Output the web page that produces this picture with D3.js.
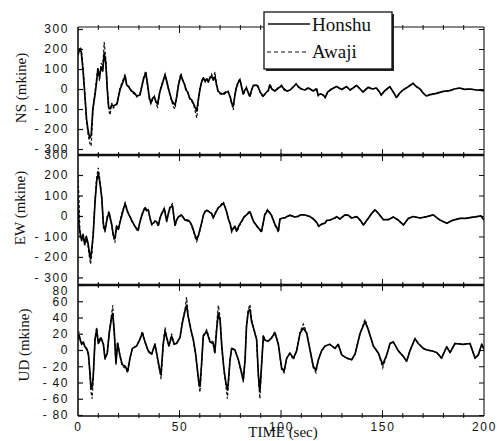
<!DOCTYPE html>
<html><head><meta charset="utf-8">
<script src="https://cdn.jsdelivr.net/npm/d3@7"></script>
<style>
body{margin:0;background:#fff;}
svg{display:block;}
.tick text{font-family:"Liberation Sans",Arial,sans-serif;font-size:12px;letter-spacing:1.6px;fill:#111;}
</style></head>
<body><svg id="c" width="497" height="441"></svg>
<script>
// ---------- DATA ----------
const seriesNames = ["Honshu", "Awaji"];
const panelNames = ["NS (mkine)", "EW (mkine)", "UD (mkine)"];
const xTicks = [0, 50, 100, 150, 200];
const nsTicks = [300, 200, 100, 0, -100, -200, -300];
const ewTicks = [300, 200, 100, 0, -100, -200, -300];
const udTicks = [80, 60, 40, 20, 0, -20, -40, -60, -80];

const nsTime = [0,0.8,1.6,2.5,3.3,4.2,5,5.8,6.5,7.3,8.2,9,9.8,10.6,11.4,12.2,12.9,13.7,14.4,15.1,15.8,16.6,17.4,18.3,19.2,20,20.8,21.6,22.5,23.2,24,25,26.4,27.8,28.9,30.5,31.4,32.3,33.4,34.3,35.1,35.9,36.8,37.6,38.5,39.2,40.3,41.5,42.9,43.7,44.5,45.3,46.1,47,47.8,48.6,49.5,50.7,51.5,52.4,53.2,54,55,56,57,57.6,58.5,59.3,60.1,60.9,61.7,62.6,63.4,64.2,65,65.8,66.6,67.5,68.3,69,70,71.5,72.8,74,75,75.7,76.5,77.3,78,79,79.8,80.6,81.4,82.2,83,83.9,84.7,85.5,86.3,88,88.7,90,91.3,92.5,93.8,94.5,95.5,97,98.7,100.3,101.5,102.8,104.5,106,107.5,108.5,110,111.8,113.5,115.8,117.5,118.3,119.5,120.8,121.8,123,125,127.4,129.9,132.3,134,135.5,137.2,138.5,140.4,142.9,145,147,148.5,149.4,151,153.6,155,156.9,158.5,160.1,162.5,165,166.7,168.5,170,171.6,173.5,176.5,180,183.1,185.5,188,190.5,193,196.5,200];
const nsHonshu = [170,200,185,90,-20,-150,-210,-245,-230,-100,-40,20,100,60,110,90,180,130,0,-90,-100,-80,-85,-80,-75,-35,0,20,45,65,20,10,-10,-20,-35,-30,10,50,80,20,-40,-70,-45,-40,-65,-75,-15,25,70,40,5,-25,-55,-70,-80,-40,20,70,45,25,-5,-15,-45,-55,-75,-90,-110,-50,0,35,55,40,50,35,55,65,45,60,20,-10,-20,-25,-15,-15,-40,-70,-85,-30,5,35,45,10,-25,-5,5,-20,-35,-5,15,20,10,-20,-35,-20,-5,20,0,-10,5,15,0,-10,-5,10,25,12,0,-5,5,-10,0,-30,-25,-30,-42,-15,0,12,-2,12,-5,5,18,5,-15,8,0,5,-15,-30,-10,12,-10,-42,-20,-5,10,28,12,0,-20,-35,-28,-22,-12,-8,0,5,-2,0,-5,-8];
const nsAwaji = [190,210,200,110,-10,-160,-230,-270,-285,-120,-30,40,110,40,130,110,235,150,20,-105,-130,-70,-95,-85,-70,-30,10,30,55,75,15,15,-15,-25,-40,-25,15,60,90,10,-50,-75,-50,-35,-75,-90,-10,30,75,35,0,-30,-60,-90,-100,-35,25,80,50,30,0,-10,-50,-60,-80,-105,-145,-60,5,40,60,35,55,40,60,75,50,85,10,-15,-25,-30,-20,-10,-45,-75,-105,-30,10,40,50,5,-30,-10,10,-25,-40,-10,20,20,15,-25,-40,-20,-10,25,0,-10,5,20,-5,-12,-5,12,28,10,0,-5,8,-10,5,-35,-25,-30,-45,-15,3,12,-3,12,-5,5,18,5,-15,10,0,5,-15,-32,-10,12,-10,-45,-20,-5,10,30,12,0,-20,-35,-28,-22,-12,-8,0,5,-2,0,-5,-8];

const ewTime = [0,0.5,1,1.8,2.5,3.3,4.1,4.9,5.6,6.2,6.9,7.5,8.4,9.2,10,10.8,11.7,12.5,13.3,14.4,15.3,16.1,16.6,17.4,18.2,19,19.9,20.7,21.5,22.3,23.2,24.4,25.4,26.4,27.2,28,29.6,30.4,31.2,32.1,33,33.8,34.6,35.5,36.3,37.1,37.9,38.8,39.6,40.4,41.2,42.5,43.7,44.5,45.3,46.5,47.2,47.8,48.6,49.4,51,52.7,54,55.1,56,56.8,57.7,58.5,59.3,60.1,61,61.8,62.6,63.4,64.6,65.8,66.6,67.8,69,70.4,71.6,72.4,73.2,74.1,74.9,75.7,76.5,77.3,78.2,79.4,80.6,81.8,83,84.7,86.4,87.5,88.8,90.4,92,93.4,95.3,97,98.7,99.5,100.8,102,104.4,106.9,108.4,109.5,111.8,114.3,116,117.5,118.6,120,121.7,122.5,124.1,126.6,127.4,129,131.5,133.2,134.8,137.3,139,140.6,142,143.1,144.5,146.3,148,150.4,152.9,155.3,157.5,160.3,162.7,165.2,168.5,171.8,175,178.3,181.6,184.9,188.2,191,193.1,196.4,198.5,200];
const ewHonshu = [100,-50,-80,-120,-90,-140,-100,-130,-180,-210,-150,-90,70,170,210,160,90,-40,-70,-10,15,-20,-40,-95,-110,-50,-65,-30,0,30,60,20,0,-20,-35,-50,-70,-35,-5,20,40,25,30,-10,-40,-35,-25,-30,-45,-10,10,35,-25,10,40,50,0,-45,-20,-5,5,-20,-20,-28,-45,-68,-95,-115,-95,-65,-30,5,20,28,20,12,-8,15,38,50,62,45,20,-15,-35,-72,-60,-50,-72,-45,-25,-5,5,20,-25,-40,-58,-75,5,28,3,-40,-72,-15,-10,-8,3,-5,-2,5,5,-3,-15,-30,-50,-40,-35,-22,-20,-10,-3,-15,5,3,-10,-3,-20,-44,-25,-10,10,30,12,-18,-18,-5,-18,-44,-12,-3,-10,-3,5,-20,-36,-20,-12,-12,-8,-3,0,-20];
const ewAwaji = [200,80,-100,-110,-100,-130,-120,-140,-200,-235,-180,-80,80,190,235,175,100,-55,-80,0,25,-25,-45,-100,-130,-45,-70,-25,10,35,65,25,0,-25,-35,-55,-75,-30,0,25,45,30,35,-15,-45,-40,-25,-35,-50,-10,15,40,-30,15,45,60,-5,-50,-20,-5,5,-20,-25,-30,-50,-72,-105,-125,-100,-70,-30,5,25,30,22,15,-10,20,40,55,70,45,20,-15,-40,-80,-65,-55,-80,-50,-30,-5,8,25,-28,-45,-60,-80,10,32,5,-45,-80,-15,-12,-10,5,-5,-3,5,6,-3,-15,-32,-52,-40,-35,-22,-20,-10,-3,-15,5,3,-10,-3,-22,-46,-25,-10,12,32,12,-18,-18,-5,-18,-45,-12,-3,-10,-3,5,-20,-36,-20,-12,-12,-8,-3,0,-20];

const udTime = [0,0.5,1.2,1.8,2.6,3.4,4.2,5.1,5.9,6.4,7,7.5,8.4,9.2,10,10.8,11.3,12.5,13.3,14.4,15.4,16.6,17.1,17.9,18.7,19.5,20.7,21.8,23.2,24.5,25.6,26.8,28.9,30.5,31.7,33,34.6,36.3,37.9,39.2,40.4,40.9,42,42.9,43.7,44.8,46.1,47.4,48.5,50.2,51.4,52.7,53.5,54.3,55.6,56.8,57.9,59,59.6,60.1,60.9,61.7,63.4,65,66.6,67.4,68.3,69.1,70,70.8,71.9,72.9,73.6,74,74.9,75.7,77.3,79,80.6,81.4,82.3,83,83.9,84.7,85.5,86.7,88,88.8,89.3,89.6,90.4,91.3,92.1,93.7,95.4,97,98.7,100.3,101.5,102.8,104.4,106.1,107.7,109.4,111,112.6,114.3,115.9,117.2,118.4,120,121.7,124.1,126.6,128.2,129.9,132.4,134.8,136.5,138.9,141.4,143,145.5,148,150.1,152.1,153.7,155.3,157.8,160.3,161.9,163.5,166,167.6,170.1,171.8,174.2,176.7,179.1,181.6,183.3,185.7,189.8,193.1,195.6,197.2,198.9,200];
const udHonshu = [13,18,12,7,10,4,2,-4,-28,-48,-45,-32,13,25,8,12,15,7,-10,-4,21,41,45,21,-16,8,-7,-18,-20,-26,-10,2,5,13,21,10,-1,-5,7,-10,-26,-30,8,23,15,5,17,7,8,15,33,48,55,41,25,13,-4,-28,-41,-45,-16,17,23,10,8,-3,25,45,37,5,-24,-41,-49,-41,-12,2,0,-12,-28,-37,-12,29,48,50,35,25,13,-28,-45,-50,-20,17,12,11,15,21,7,-22,-26,-10,-4,-10,-1,21,27,21,0,-20,-25,-12,-1,5,7,2,7,-6,-10,-12,-5,20,35,25,5,-4,-18,-6,8,10,-1,-8,-14,-1,14,8,2,0,-1,-3,-10,4,-3,8,7,8,-10,-6,7,1];
const udAwaji = [18,21,10,8,8,5,0,-6,-30,-52,-60,-35,15,28,10,14,16,8,-12,-5,22,45,55,20,-18,10,-8,-20,-22,-28,-10,2,5,14,23,10,-2,-6,8,-12,-28,-36,8,28,15,5,20,7,8,15,35,50,65,42,25,12,-5,-30,-45,-52,-18,18,25,12,10,-5,30,55,40,5,-25,-45,-60,-45,-12,3,0,-12,-30,-40,-12,30,50,56,38,25,12,-30,-50,-60,-20,18,12,11,15,23,7,-24,-28,-10,-4,-12,-1,22,32,22,0,-22,-28,-12,-1,5,7,2,7,-6,-10,-12,-5,20,38,25,5,-4,-22,-6,8,10,-1,-8,-14,-1,14,8,2,0,-1,-3,-10,4,-3,8,7,8,-10,-6,7,1];

// ---------- LAYOUT ----------
const svg = d3.select("#c");
const X0 = 78, X1 = 484;
const x = d3.scaleLinear().domain([0, 200]).range([X0, X1]);

const panels = [
  {name: panelNames[0], top: 27, bottom: 155, y: d3.scaleLinear().domain([-330, 310]).range([155, 27]),
   ticks: nsTicks, t: nsTime, h: nsHonshu, a: nsAwaji, tx: 26, ty: 88},
  {name: panelNames[1], top: 155, bottom: 285, y: d3.scaleLinear().domain([-337, 300]).range([285, 154.5]),
   ticks: ewTicks, t: ewTime, h: ewHonshu, a: ewAwaji, tx: 25, ty: 208},
  {name: panelNames[2], top: 285, bottom: 416, y: d3.scaleLinear().domain([-80, 80]).range([415, 285]),
   ticks: udTicks, t: udTime, h: udHonshu, a: udAwaji, tx: 29, ty: 345}
];

const fmt = d => d < 0 ? "-\u2009" + Math.abs(d) : String(d);

panels.forEach((p, i) => {
  const g = svg.append("g");
  const clipId = "clip" + i;
  svg.append("clipPath").attr("id", clipId).append("rect")
    .attr("x", X0).attr("y", p.top - 6).attr("width", X1 - X0).attr("height", p.bottom - p.top + 12);

  const la = g.append("g").attr("transform", `translate(${X0},0)`)
    .call(d3.axisLeft(p.y).tickValues(p.ticks).tickFormat(fmt).tickSizeInner(-5).tickSizeOuter(0).tickPadding(9));
  la.select(".domain").remove();
  la.selectAll("line").attr("stroke", "#111").attr("stroke-width", 1.2);
  if (i === 2) la.selectAll(".tick").filter(d => d === 80).select("text").attr("dy", "0.75em");

  const ra = g.append("g").attr("transform", `translate(${X1},0)`)
    .call(d3.axisRight(p.y).tickValues(p.ticks).tickFormat("").tickSizeInner(-5).tickSizeOuter(0));
  ra.select(".domain").remove();
  ra.selectAll("line").attr("stroke", "#111").attr("stroke-width", 1);

  const minor = d3.range(10, 200, 10);
  [[p.top, 1], [p.bottom, -1]].forEach(([yy, dir]) => {
    g.selectAll(null).data(minor).enter().append("line")
      .attr("x1", d => x(d)).attr("x2", d => x(d))
      .attr("y1", yy - dir * 2).attr("y2", d => yy + dir * (d % 50 === 0 ? 6 : 3))
      .attr("stroke", "#111").attr("stroke-width", 1);
  });

  const ptsH = p.t.map((t, k) => [t, p.h[k]]);
  const ptsA = p.t.map((t, k) => [t, p.a[k]]);
  const line = d3.line().x(d => x(d[0])).y(d => p.y(d[1]));
  g.append("path").datum(ptsA).attr("d", line).attr("fill", "none")
    .attr("stroke", "#111").attr("stroke-width", 1.2).attr("stroke-dasharray", "3,2")
    .attr("clip-path", `url(#${clipId})`);
  g.append("path").datum(ptsH).attr("d", line).attr("fill", "none")
    .attr("stroke", "#000").attr("stroke-width", 1.7).attr("stroke-linejoin", "round")
    .attr("clip-path", `url(#${clipId})`);

  svg.append("text").attr("transform", `translate(${p.tx},${p.ty}) rotate(-90)`)
    .attr("text-anchor", "middle").attr("font-family", "Liberation Serif, serif")
    .attr("font-size", 15).attr("fill", "#111").text(p.name);
});

svg.append("line").attr("x1", X0).attr("x2", X0).attr("y1", 27).attr("y2", 416).attr("stroke", "#111").attr("stroke-width", 1.6);
svg.append("line").attr("x1", X1).attr("x2", X1).attr("y1", 27).attr("y2", 416).attr("stroke", "#111").attr("stroke-width", 1.1);
svg.append("line").attr("x1", X0).attr("x2", X1).attr("y1", 27).attr("y2", 27).attr("stroke", "#111").attr("stroke-width", 1.1);
svg.append("line").attr("x1", X0).attr("x2", X1).attr("y1", 416).attr("y2", 416).attr("stroke", "#111").attr("stroke-width", 1.6);
[155, 285].forEach(yy => svg.append("line").attr("x1", X0).attr("x2", X1).attr("y1", yy).attr("y2", yy)
  .attr("stroke", "#111").attr("stroke-width", 2.6));

const xa = svg.append("g").attr("transform", "translate(0,416)")
  .call(d3.axisBottom(x).tickValues(xTicks).tickSize(0).tickPadding(6));
xa.select(".domain").remove();
xa.selectAll("text").attr("font-size", 12).attr("letter-spacing", "2px");

svg.append("text").attr("x", 283).attr("y", 437).attr("text-anchor", "middle")
  .attr("font-family", "Liberation Serif, serif").attr("font-size", 15).attr("fill", "#111").text("TIME (sec)");

const lg = svg.append("g");
lg.append("rect").attr("x", 266).attr("y", 14).attr("width", 128).attr("height", 57).attr("fill", "#222");
lg.append("rect").attr("x", 264).attr("y", 12).attr("width", 128).attr("height", 57)
  .attr("fill", "#fff").attr("stroke", "#111").attr("stroke-width", 1.3);
lg.append("line").attr("x1", 268).attr("x2", 310).attr("y1", 24).attr("y2", 24).attr("stroke", "#111").attr("stroke-width", 1.3);
lg.append("line").attr("x1", 267).attr("x2", 309).attr("y1", 52).attr("y2", 52).attr("stroke", "#111").attr("stroke-width", 1.1).attr("stroke-dasharray", "4,3");
lg.append("text").attr("x", 312).attr("y", 31).attr("font-family", "Liberation Serif, serif").attr("font-size", 19).attr("fill", "#111").text(seriesNames[0]);
lg.append("text").attr("x", 312).attr("y", 58).attr("font-family", "Liberation Serif, serif").attr("font-size", 19).attr("fill", "#111").text(seriesNames[1]);
</script></body></html>
